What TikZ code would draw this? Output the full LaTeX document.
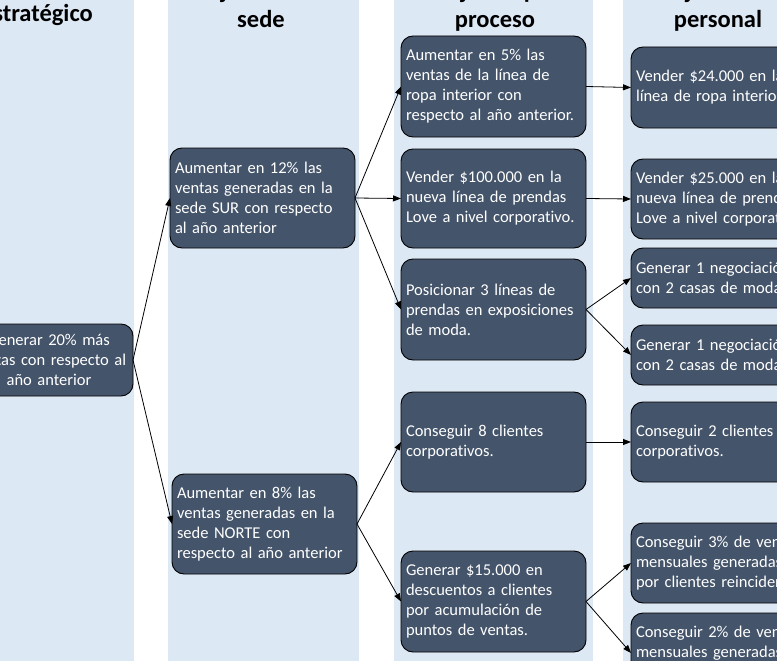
\documentclass[tikz,border=0pt]{standalone}
\usepackage{fontspec}
\setmainfont{Carlito}[Ligatures={NoCommon,NoContextual}]
\usetikzlibrary{arrows.meta}
\definecolor{colbg}{HTML}{DDE8F5}
\definecolor{boxfill}{HTML}{44546A}
\begin{document}
\begin{tikzpicture}[x=1pt,y=-1pt,
  box/.style={draw=black, line width=0.9pt, fill=boxfill, rounded corners=12pt, text=white,
    font=\fontsize{16.5}{20}\selectfont, align=left, text width=175pt, inner xsep=5pt,
    inner ysep=3pt, minimum width=185pt, outer sep=0pt},
  hdr/.style={font=\fontsize{24.5}{29}\selectfont\bfseries, inner sep=0pt},
  arr/.style={-{Triangle[length=8pt,width=6pt]}, line width=0.8pt}]
\useasboundingbox (0,0) rectangle (777,661);
\clip (0,0) rectangle (777,661);
% column backgrounds
\fill[colbg] (-60,0) rectangle (134,661);
\fill[colbg] (168,0) rectangle (359,661);
\fill[colbg] (394,0) rectangle (593,661);
\fill[colbg] (623,0) rectangle (830,661);
% headers
\node[hdr, anchor=base east] (h1) at (93,22) {Objetivo estratégico};
\node[hdr, anchor=base] (h2a) at (262,-1) {Objetivo de la};
\node[hdr, anchor=base] (h2b) at (261,28) {sede};
\node[hdr, anchor=base] (h3a) at (495,-1) {Objetivo por};
\node[hdr, anchor=base] (h3b) at (495,28) {proceso};
\node[hdr, anchor=base] (h4a) at (718,-1) {Objetivo del};
\node[hdr, anchor=base] (h4b) at (718,28) {personal};
% level 1
\node[box, align=center, text width=158pt, minimum width=168pt, minimum height=72pt] (n0) at (49,360)
  {Generar 20\% más\\ventas con respecto al\\año anterior};
% level 2
\node[box, minimum height=100pt] (s1) at (262.5,198)
  {Aumentar en 12\% las\\ventas generadas en la\\sede SUR con respecto\\al año anterior};
\node[box, minimum height=100pt] (s2) at (264.5,524)
  {Aumentar en 8\% las\\ventas generadas en la\\sede NORTE con\\respecto al año anterior};
% level 3
\node[box, minimum height=101pt] (p1) at (493.5,86.5)
  {Aumentar en 5\% las\\ventas de la línea de\\ropa interior con\\respecto al año anterior.};
\node[box, minimum height=99pt] (p2) at (493.5,198.5)
  {Vender \$100.000 en la\\nueva línea de prendas\\Love a nivel corporativo.};
\node[box, minimum height=101pt] (p3) at (493.5,309.5)
  {Posicionar 3 líneas de\\prendas en exposiciones\\de moda.};
\node[box, minimum height=100pt] (p4) at (493.5,442)
  {Conseguir 8 clientes\\corporativos.};
\node[box, minimum height=101pt] (p5) at (493.5,601.5)
  {Generar \$15.000 en\\descuentos a clientes\\por acumulación de\\puntos de ventas.};
% level 4
\node[box, minimum height=81pt] (q1) at (723.5,87.5)
  {Vender \$24.000 en la\\línea de ropa interior.};
\node[box, minimum height=80pt] (q2) at (723.5,199)
  {Vender \$25.000 en la\\nueva línea de prendas\\Love a nivel corporativo.};
\node[box, minimum height=60pt] (q3) at (723.5,278)
  {Generar 1 negociación\\con 2 casas de moda.};
\node[box, minimum height=60pt] (q4) at (723.5,355)
  {Generar 1 negociación\\con 2 casas de moda.};
\node[box, minimum height=80pt] (q5) at (723.5,442)
  {Conseguir 2 clientes\\corporativos.};
\node[box, minimum height=80pt] (q6) at (723.5,563)
  {Conseguir 3\% de ventas\\mensuales generadas\\por clientes reincidentes.};
\node[box, minimum height=80pt] (q7) at (723.5,653)
  {Conseguir 2\% de ventas\\mensuales generadas\\por clientes nuevos.};
% connectors
\draw[arr] (n0.east) -- (s1.west);
\draw[arr] (n0.east) -- (s2.west);
\draw[arr] (s1.east) -- (p1.west);
\draw[arr] (s1.east) -- (p2.west);
\draw[arr] (s1.east) -- (p3.west);
\draw[arr] (s2.east) -- (p4.west);
\draw[arr] (s2.east) -- (p5.west);
\draw[arr] (p1.east) -- (q1.west);
\draw[arr] (p2.east) -- (q2.west);
\draw[arr] (p3.east) -- (q3.west);
\draw[arr] (p3.east) -- (q4.west);
\draw[arr] (p4.east) -- (q5.west);
\draw[arr] (p5.east) -- (q6.west);
\draw[arr] (p5.east) -- (q7.west);
\end{tikzpicture}
\end{document}
